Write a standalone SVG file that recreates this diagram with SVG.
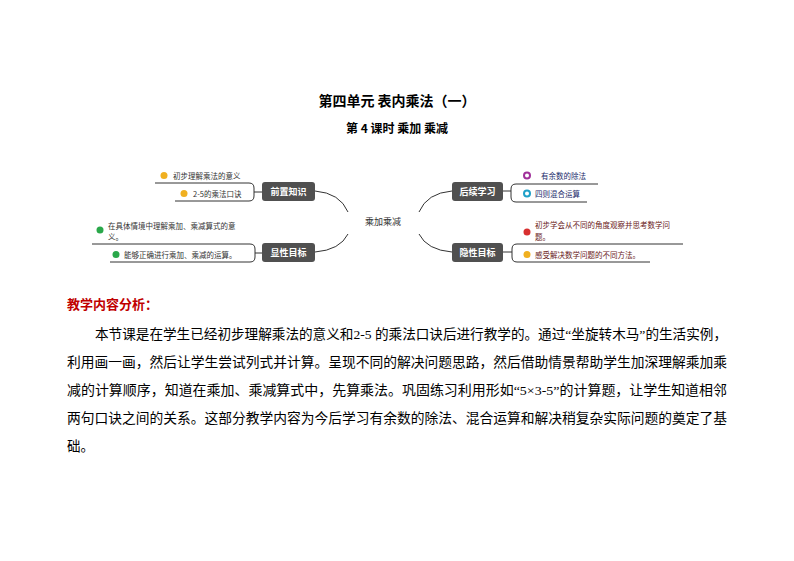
<svg xmlns="http://www.w3.org/2000/svg" width="794" height="561" viewBox="0 0 794 561">
<style>
.t{font-family:"Noto Sans CJK SC","Noto Sans CJK JP",sans-serif}
.nb{fill:#505050}
.nt{font-family:"Noto Sans CJK SC",sans-serif;font-size:9px;fill:#fff;text-anchor:middle;font-weight:bold}
.lf{font-family:"Noto Sans CJK SC",sans-serif;font-size:7.5px;fill:#333}
.ln{stroke:#333;stroke-width:1;fill:none}
.p{font-family:"Liberation Serif","Noto Sans CJK SC",serif;font-size:13.5px;fill:#000}
</style>
<rect width="794" height="561" fill="#fff"/>
<text x="397" y="106" text-anchor="middle" class="t" font-size="14" font-weight="bold">第四单元  表内乘法（一）</text>
<text x="397" y="133" text-anchor="middle" class="t" font-size="12" font-weight="bold">第 4 课时  乘加  乘减</text>
<g id="connectors" class="ln">
<path d="M315 191 Q340 193 348 212"/><path d="M315 252 Q340 250 348 234"/>
<path d="M452 191 Q427 193 419 212"/><path d="M452 252 Q427 250 419 234"/>
<path d="M155 183 H249 Q254 183 254 188 V196 Q254 201 249 201 H175 M254 192 H262"/>
<path d="M92 244 H250 Q255 244 255 249 V257 Q255 262 250 262 H110 M255 253 H262"/>
<path d="M598 184 H516 Q511 184 511 189 V197 Q511 202 516 202 H587 M511 191 H503"/>
<path d="M683 244 H517 Q512 244 512 249 V257 Q512 262 517 262 H650 M512 252 H503"/>
</g>
<g id="center"><text x="383" y="225" text-anchor="middle" class="t" font-size="9" fill="#333">乘加乘减</text></g>
<g id="n1"><rect x="262" y="182" width="53" height="19" rx="3" class="nb"/><text x="288.5" y="195" class="nt">前置知识</text></g>
<g id="n2"><rect x="262" y="243" width="53" height="19" rx="3" class="nb"/><text x="288.5" y="256" class="nt">显性目标</text></g>
<g id="n3"><rect x="452" y="182" width="51" height="19" rx="3" class="nb"/><text x="477.5" y="195" class="nt">后续学习</text></g>
<g id="n4"><rect x="452" y="243" width="51" height="19" rx="3" class="nb"/><text x="477.5" y="256" class="nt">隐性目标</text></g>
<g id="l1"><circle cx="164" cy="175.5" r="3.5" fill="#f0b020"/><text x="173" y="179" class="lf">初步理解乘法的意义</text></g>
<g id="l2"><circle cx="184" cy="193.5" r="3.5" fill="#f0b020"/><text x="193" y="197" class="lf">2-5的乘法口诀</text></g>
<g id="l3"><circle cx="100" cy="230" r="3.5" fill="#2aa84a"/><text x="108" y="229" class="lf">在具体情境中理解乘加、乘减算式的意</text><text x="108" y="240" class="lf">义。</text></g>
<g id="l4"><circle cx="116" cy="254.5" r="3.5" fill="#2aa84a"/><text x="124" y="258" class="lf">能够正确进行乘加、乘减的运算。</text></g>
<g id="l5"><circle cx="527" cy="175.5" r="3" fill="none" stroke="#a0309a" stroke-width="2"/><text x="541" y="179" class="lf" fill="#1a2a5a" style="fill:#1a2a6a">有余数的除法</text></g>
<g id="l6"><circle cx="527" cy="193.5" r="3" fill="none" stroke="#20a0c8" stroke-width="2"/><text x="535" y="197" class="lf" style="fill:#1a2a6a">四则混合运算</text></g>
<g id="l7"><circle cx="527" cy="232" r="3.5" fill="#d83030"/><text x="535" y="228" class="lf" style="fill:#6a1a1a">初步学会从不同的角度观察并思考数学问</text><text x="535" y="240" class="lf" style="fill:#6a1a1a">题。</text></g>
<g id="l8"><circle cx="527" cy="254.5" r="3.5" fill="#f0b020"/><text x="535" y="258" class="lf" style="fill:#6a1a1a">感受解决数学问题的不同方法。</text></g>
<text x="67" y="309" class="t" font-size="13" font-weight="bold" fill="#c00000">教学内容分析：</text>
<text x="95" y="339" class="p" textLength="632" lengthAdjust="spacingAndGlyphs">本节课是在学生已经初步理解乘法的意义和2-5 的乘法口诀后进行教学的。通过“坐旋转木马”的生活实例，</text>
<text x="67" y="367" class="p" textLength="660" lengthAdjust="spacingAndGlyphs">利用画一画，然后让学生尝试列式并计算。呈现不同的解决问题思路，然后借助情景帮助学生加深理解乘加乘</text>
<text x="67" y="395" class="p" textLength="660" lengthAdjust="spacingAndGlyphs">减的计算顺序，知道在乘加、乘减算式中，先算乘法。巩固练习利用形如“5×3-5”的计算题，让学生知道相邻</text>
<text x="67" y="423" class="p" textLength="660" lengthAdjust="spacingAndGlyphs">两句口诀之间的关系。这部分教学内容为今后学习有余数的除法、混合运算和解决稍复杂实际问题的奠定了基</text>
<text x="67" y="451" class="p">础。</text>
</svg>
